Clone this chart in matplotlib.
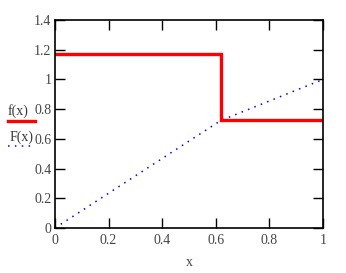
import numpy as np
import matplotlib
matplotlib.use("Agg")
import matplotlib.pyplot as plt
from matplotlib.lines import Line2D

# data
x_f = [0, 0.618, 0.618, 1]
f_vals = [1.17, 1.17, 0.725, 0.725]
x_F = [0, 0.618, 1]
F_vals = [0, 0.723, 1.0]
xticks = [0, 0.2, 0.4, 0.6, 0.8, 1]
xtick_labels = ["0", "0.2", "0.4", "0.6", "0.8", "1"]
yticks = [0, 0.2, 0.4, 0.6, 0.8, 1, 1.2, 1.4]
ytick_labels = ["0", "0.2", "0.4", "0.6", "0.8", "1", "1.2", "1.4"]

plt.rcParams['font.family'] = ['Liberation Serif', 'DejaVu Serif']

W, H = 346, 273
fig = plt.figure(figsize=(W / 100, H / 100), dpi=100)
ax = fig.add_axes([55 / W, 1 - 228 / H, (323 - 55) / W, (228 - 20) / H])

ax.plot(x_F, F_vals, color='#0000ff', linewidth=1.1, linestyle=(0, (1, 3.5)))
ax.plot(x_f, f_vals, color='#ff0000', linewidth=2.4, solid_joinstyle='miter')

ax.set_xlim(0, 1)
ax.set_ylim(0, 1.4)
ax.set_xticks(xticks)
ax.set_xticklabels(xtick_labels)
ax.set_yticks(yticks)
ax.set_yticklabels(ytick_labels)
ax.tick_params(direction='in', length=7, width=1, top=True, right=True,
               labelsize=10, labelcolor='#444444', pad=2.5)
ax.tick_params(axis='x', pad=4.5)
for s in ax.spines.values():
    s.set_linewidth(1.2)
ax.set_xlabel("x", fontsize=10, color='#444444', labelpad=6)

# Mathcad style legend at the left
fig.text(8 / W, 1 - 115 / H, "f(x)", fontsize=10, color='#333333')
fig.add_artist(Line2D([8 / W, 35 / W], [1 - 121 / H, 1 - 121 / H],
                      color='#ff0000', linewidth=2.4, transform=fig.transFigure))
fig.text(10 / W, 1 - 141 / H, "F(x)", fontsize=10, color='#333333')
fig.add_artist(Line2D([8 / W, 33 / W], [1 - 146 / H, 1 - 146 / H],
                      color='#0000ff', linewidth=1.1, linestyle=(0, (1, 3.5)),
                      transform=fig.transFigure))

fig.savefig("out.png", dpi=100)
